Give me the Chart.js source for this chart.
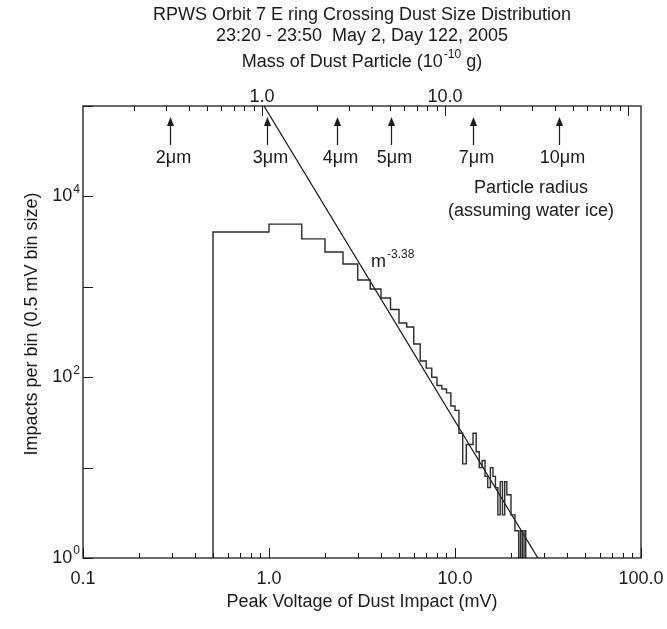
<!DOCTYPE html>
<html>
<head>
<meta charset="utf-8">
<script src="https://cdn.jsdelivr.net/npm/chart.js@4.4.1/dist/chart.umd.min.js"></script>
<style>
  html, body { margin: 0; padding: 0; background: #fff; }
  #wrap { width: 667px; height: 629px; }
</style>
</head>
<body>
<div id="wrap"><canvas id="chart" width="667" height="629"></canvas></div>
<script>
// histogram: impacts per 0.5 mV bin, first bin starts at 0.5 mV
const binStart = 0.5;
const binWidth = 0.5;
const histCounts = [
  4040, 4930, 3390, 2430, 1790, 1190, 946, 752, 560, 398,
  359, 233, 151, 126, 100, 81, 74, 67, 48, 43,
  24, 11, 18, 18, 24, 15, 10, 12, 8, 6,
  10, 8, 6, 3, 7, 3, 7, 5, 5, 3,
  3, 2, 2, 1, 2, 1, 2
];

// power law fit m^-3.38 (end points)
const fitVoltage = [0.94, 27.9];
const fitImpacts = [1e5, 1];

// bottom axis (mV)
const voltTicks = [0.1, 1, 10, 100];
const voltLabels = ['0.1', '1.0', '10.0', '100.0'];

// left axis
const impactPowers = [0, 2, 4];

// top axis (mass, 1e-10 g)
const massMin = 0.105;
const massMax = 117.8;
const massTicks = [1, 10];
const massLabels = ['1.0', '10.0'];

// radius arrows
const radiusLabels = ['2μm', '3μm', '4μm', '5μm', '7μm', '10μm'];
const radiusMass = [0.314, 1.065, 2.57, 5.07, 14.2, 42.0];

const FONT = '"Liberation Sans", Arial, Helvetica, sans-serif';
const INK = '#1a1a1a';

// build step points from the bins
const histPoints = [{ x: binStart, y: 1 }];
histCounts.forEach((c, i) => {
  histPoints.push({ x: binStart + i * binWidth, y: c });
});
histPoints.push({ x: binStart + histCounts.length * binWidth, y: 1 });

const fitPoints = fitVoltage.map((v, i) => ({ x: v, y: fitImpacts[i] }));

function supText(ctx, base, sup, x, y, align, size) {
  // draws base text with a raised small superscript, y is the middle line
  ctx.font = size + 'px ' + FONT;
  const wb = ctx.measureText(base).width;
  ctx.font = Math.round(size * 0.68) + 'px ' + FONT;
  const ws = ctx.measureText(sup).width;
  const total = wb + 1 + ws;
  let left = x;
  if (align === 'center') left = x - total / 2;
  if (align === 'right') left = x - total;
  ctx.textAlign = 'left';
  ctx.textBaseline = 'middle';
  ctx.font = size + 'px ' + FONT;
  ctx.fillText(base, left, y);
  ctx.font = Math.round(size * 0.68) + 'px ' + FONT;
  ctx.fillText(sup, left + wb + 1, y - size * 0.38);
  return left + total;
}

const decorations = {
  id: 'decorations',
  afterDatasetsDraw(chart) {
    const ctx = chart.ctx;
    const a = chart.chartArea;
    const xs = chart.scales.x;
    const xm = chart.scales.x2;
    const ys = chart.scales.y;
    ctx.save();
    ctx.strokeStyle = INK;
    ctx.fillStyle = INK;

    // frame
    ctx.lineWidth = 1.3;
    ctx.strokeRect(a.left, a.top, a.right - a.left, a.bottom - a.top);

    // bottom ticks
    ctx.lineWidth = 1;
    ctx.beginPath();
    for (let d = 0.1; d < 100; d *= 10) {
      for (let k = 1; k <= 10; k++) {
        const v = d * k;
        const px = Math.round(xs.getPixelForValue(v)) + 0.5;
        const len = (k === 1 || k === 10) ? 10 : 5;
        ctx.moveTo(px, a.bottom);
        ctx.lineTo(px, a.bottom - len);
      }
    }
    // top ticks (mass)
    for (let d = 0.1; d <= 100; d *= 10) {
      for (let k = 1; k <= 9; k++) {
        const v = d * k;
        if (v < massMin || v > massMax) continue;
        const px = Math.round(xm.getPixelForValue(v)) + 0.5;
        const len = k === 1 ? 10 : 5;
        ctx.moveTo(px, a.top);
        ctx.lineTo(px, a.top + len);
      }
    }
    // left ticks
    for (let p = 0; p <= 5; p++) {
      const py = Math.round(ys.getPixelForValue(Math.pow(10, p))) + 0.5;
      ctx.moveTo(a.left, py);
      ctx.lineTo(a.left + 10, py);
    }
    ctx.stroke();

    // bottom tick labels
    ctx.font = '18px ' + FONT;
    ctx.textAlign = 'center';
    ctx.textBaseline = 'middle';
    voltTicks.forEach((v, i) => {
      ctx.fillText(voltLabels[i], xs.getPixelForValue(v), a.bottom + 21);
    });
    // top tick labels
    massTicks.forEach((v, i) => {
      ctx.fillText(massLabels[i], xm.getPixelForValue(v), a.top - 9);
    });
    // left tick labels
    impactPowers.forEach(p => {
      supText(ctx, '10', String(p), a.left - 3, ys.getPixelForValue(Math.pow(10, p)), 'right', 18);
    });

    // titles
    const cx = (a.left + a.right) / 2;
    ctx.font = '18px ' + FONT;
    ctx.textAlign = 'center';
    ctx.textBaseline = 'middle';
    ctx.fillText('RPWS Orbit 7 E ring Crossing Dust Size Distribution', cx, 15);
    ctx.fillText('23:20 - 23:50  May 2, Day 122, 2005', cx, 36);
    ctx.fillText('Peak Voltage of Dust Impact (mV)', cx, a.bottom + 44);

    // mass axis title with superscript
    ctx.font = '18px ' + FONT;
    const t1 = 'Mass of Dust Particle (10';
    const t2 = ' g)';
    const w1 = ctx.measureText(t1).width;
    const w3 = ctx.measureText(t2).width;
    ctx.font = '12px ' + FONT;
    const w2 = ctx.measureText('-10').width;
    let lx = cx - (w1 + w2 + w3 + 1) / 2;
    ctx.textAlign = 'left';
    ctx.font = '18px ' + FONT;
    ctx.fillText(t1, lx, 62);
    ctx.font = '12px ' + FONT;
    ctx.fillText('-10', lx + w1 + 1, 55);
    ctx.font = '18px ' + FONT;
    ctx.fillText(t2, lx + w1 + w2 + 1, 62);

    // y axis title
    ctx.save();
    ctx.translate(32, (a.top + a.bottom) / 2 - 8);
    ctx.rotate(-Math.PI / 2);
    ctx.textAlign = 'center';
    ctx.fillText('Impacts per bin (0.5 mV bin size)', 0, 0);
    ctx.restore();

    // radius arrows
    radiusMass.forEach((m, i) => {
      const px = Math.round(xm.getPixelForValue(m)) + 0.5;
      ctx.lineWidth = 1.2;
      ctx.beginPath();
      ctx.moveTo(px, a.top + 39);
      ctx.lineTo(px, a.top + 18);
      ctx.stroke();
      ctx.beginPath();
      ctx.moveTo(px, a.top + 11);
      ctx.lineTo(px - 3.5, a.top + 20);
      ctx.lineTo(px + 3.5, a.top + 20);
      ctx.closePath();
      ctx.fill();
      ctx.font = '18px ' + FONT;
      ctx.textAlign = 'center';
      ctx.fillText(radiusLabels[i], px + 3, a.top + 52);
    });
    ctx.textAlign = 'center';
    ctx.fillText('Particle radius', 531, 188);
    ctx.fillText('(assuming water ice)', 531, 211);

    // slope annotation
    supText(ctx, 'm', '-3.38', 371, 262, 'left', 18);

    ctx.restore();
  }
};

new Chart(document.getElementById('chart'), {
  type: 'line',
  data: {
    datasets: [
      {
        label: 'impacts',
        data: histPoints,
        stepped: 'before',
        borderColor: '#2a2a2a',
        borderWidth: 1.4,
        pointRadius: 0,
        fill: false,
        xAxisID: 'x',
        yAxisID: 'y'
      },
      {
        label: 'fit',
        data: fitPoints,
        borderColor: '#111',
        borderWidth: 1.2,
        pointRadius: 0,
        fill: false,
        xAxisID: 'x',
        yAxisID: 'y'
      }
    ]
  },
  options: {
    responsive: false,
    animation: false,
    devicePixelRatio: 1,
    layout: { padding: { left: 83, right: 26, top: 106, bottom: 71 } },
    plugins: { legend: { display: false }, tooltip: { enabled: false }, title: { display: false } },
    scales: {
      x: { type: 'logarithmic', min: 0.1, max: 100, display: false },
      x2: { type: 'logarithmic', position: 'top', min: massMin, max: massMax, display: false },
      y: { type: 'logarithmic', min: 1, max: 1e5, display: false }
    }
  },
  plugins: [decorations]
});
</script>
</body>
</html>
